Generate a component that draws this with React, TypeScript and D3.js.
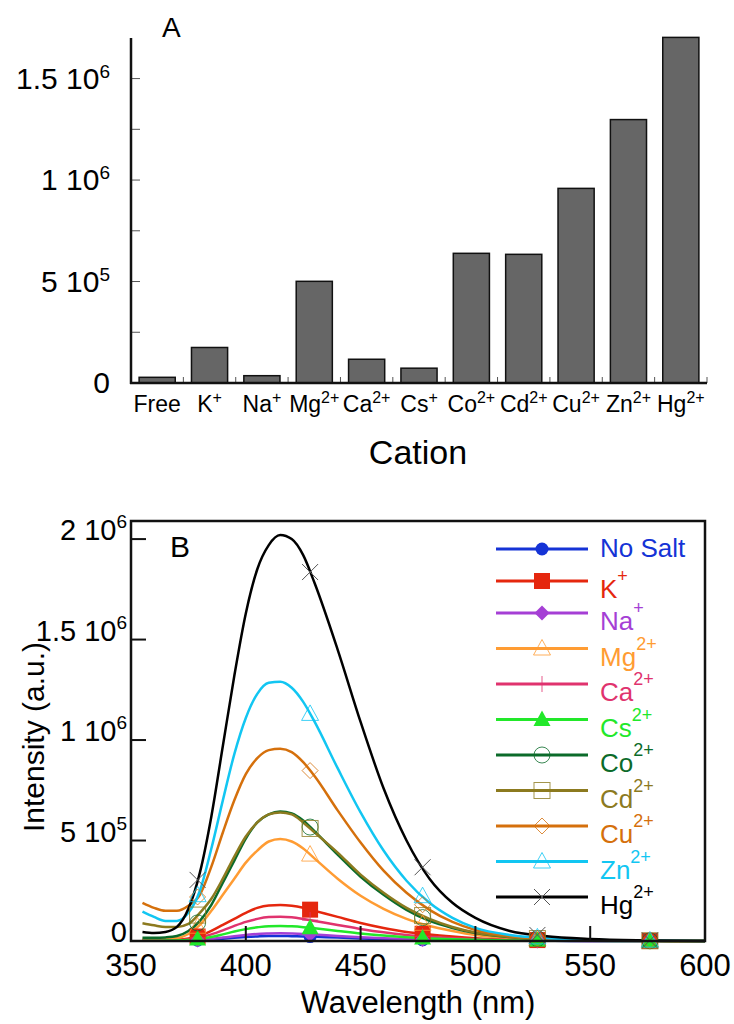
import React from "react";
import * as d3 from "d3";

// ---------- Panel A data ----------
const cations = ["Free", "K", "Na", "Mg", "Ca", "Cs", "Co", "Cd", "Cu", "Zn", "Hg"];
const cationCharges = ["", "+", "+", "2+", "2+", "+", "2+", "2+", "2+", "2+", "2+"];
const barValues = [28000, 175000, 36000, 501000, 117000, 73000, 639000, 634000, 959000, 1298000, 1703000];
const yTicksA = [0, 500000, 1000000, 1500000];
const yTickMantA = ["0", "5", "1", "1.5"];
const yTickExpA = ["", "5", "6", "6"];
const yMinorTicksA = [250000, 500000, 750000, 1000000, 1250000, 1500000];

// ---------- Panel B data (intensity in units of 10^6) ----------
const wavelengths = [355, 360, 365, 370, 375, 380, 385, 390, 395, 400, 405, 410, 415, 420, 425, 430, 440, 450, 460, 470, 480, 490, 500, 515, 530, 550, 575, 600];
const noSalt = [0.001, 0.001, 0.001, 0.001, 0.002, 0.004, 0.007, 0.011, 0.016, 0.02, 0.023, 0.025, 0.025, 0.024, 0.023, 0.021, 0.017, 0.013, 0.009, 0.007, 0.005, 0.003, 0.002, 0.001, 0.001, 0, 0, 0];
const kPlus = [0.003, 0.003, 0.004, 0.006, 0.012, 0.025, 0.05, 0.08, 0.11, 0.14, 0.165, 0.177, 0.179, 0.175, 0.165, 0.15, 0.12, 0.09, 0.065, 0.045, 0.032, 0.022, 0.014, 0.007, 0.004, 0.002, 0.001, 0];
const naPlus = [0.001, 0.001, 0.001, 0.002, 0.003, 0.006, 0.01, 0.017, 0.024, 0.03, 0.035, 0.037, 0.038, 0.037, 0.035, 0.032, 0.025, 0.019, 0.014, 0.01, 0.007, 0.005, 0.003, 0.002, 0.001, 0.0005, 0, 0];
const mg2 = [0.01, 0.01, 0.012, 0.015, 0.035, 0.08, 0.15, 0.23, 0.31, 0.39, 0.45, 0.495, 0.507, 0.495, 0.46, 0.41, 0.31, 0.225, 0.16, 0.11, 0.075, 0.05, 0.03, 0.015, 0.008, 0.003, 0.001, 0];
const ca2 = [0.002, 0.002, 0.003, 0.004, 0.008, 0.017, 0.033, 0.053, 0.075, 0.095, 0.11, 0.119, 0.121, 0.118, 0.11, 0.1, 0.08, 0.06, 0.043, 0.03, 0.021, 0.014, 0.009, 0.005, 0.003, 0.001, 0.0005, 0];
const cs2 = [0.001, 0.001, 0.002, 0.003, 0.005, 0.011, 0.02, 0.033, 0.047, 0.059, 0.068, 0.074, 0.075, 0.073, 0.069, 0.063, 0.05, 0.037, 0.027, 0.019, 0.013, 0.009, 0.006, 0.003, 0.002, 0.001, 0, 0];
const co2 = [0.016, 0.016, 0.018, 0.025, 0.05, 0.1, 0.18, 0.29, 0.4, 0.51, 0.59, 0.63, 0.645, 0.635, 0.6, 0.545, 0.43, 0.32, 0.23, 0.155, 0.1, 0.065, 0.04, 0.02, 0.01, 0.004, 0.001, 0];
const cd2 = [0.088, 0.078, 0.07, 0.07, 0.085, 0.14, 0.21, 0.31, 0.42, 0.52, 0.59, 0.63, 0.64, 0.63, 0.59, 0.54, 0.44, 0.33, 0.24, 0.165, 0.11, 0.07, 0.042, 0.02, 0.01, 0.004, 0.001, 0];
const cu2 = [0.19, 0.165, 0.15, 0.15, 0.175, 0.23, 0.37, 0.54, 0.7, 0.83, 0.91, 0.95, 0.957, 0.94, 0.89, 0.82, 0.65, 0.49, 0.35, 0.24, 0.155, 0.095, 0.055, 0.025, 0.012, 0.005, 0.002, 0];
const zn2 = [0.146, 0.12, 0.1, 0.1, 0.14, 0.25, 0.46, 0.7, 0.93, 1.11, 1.23, 1.285, 1.29, 1.26, 1.19, 1.09, 0.86, 0.64, 0.45, 0.3, 0.19, 0.115, 0.065, 0.03, 0.015, 0.006, 0.002, 0];
const hg2 = [0.045, 0.04, 0.045, 0.07, 0.16, 0.34, 0.62, 0.97, 1.32, 1.63, 1.85, 1.97, 2.02, 2.0, 1.92, 1.78, 1.45, 1.09, 0.76, 0.5, 0.31, 0.19, 0.115, 0.05, 0.025, 0.01, 0.003, 0];

const seriesNames = ["No Salt", "K", "Na", "Mg", "Ca", "Cs", "Co", "Cd", "Cu", "Zn", "Hg"];
const seriesSups = ["", "+", "+", "2+", "2+", "2+", "2+", "2+", "2+", "2+", "2+"];
const seriesData = [noSalt, kPlus, naPlus, mg2, ca2, cs2, co2, cd2, cu2, zn2, hg2];
const seriesColors = ["#1533d6", "#e5270e", "#a53fd5", "#ff9c33", "#e0336e", "#22e82a", "#0b6b2a", "#8c7a1f", "#d5700c", "#12c6f2", "#000000"];
const seriesMarkers = ["circleFill", "squareFill", "diamondFill", "triOpen", "plus", "triFill", "circleOpen", "squareOpen", "diamondOpen", "triOpen", "cross"];
const markerWavelengths = [379, 428, 477, 527, 576];

const xTicksB = [350, 400, 450, 500, 550, 600];
const yTicksB = [0, 0.5, 1, 1.5, 2];
const yTickMantB = ["0", "5", "1", "1.5", "2"];
const yTickExpB = ["", "5", "6", "6", "6"];

const FONT = "'Liberation Sans', Arial, Helvetica, sans-serif";

function valueAt(series: number[], w: number): number {
  const i = d3.bisectLeft(wavelengths, w);
  if (i <= 0) return series[0];
  if (i >= wavelengths.length) return series[series.length - 1];
  const w0 = wavelengths[i - 1], w1 = wavelengths[i];
  const t = (w - w0) / (w1 - w0);
  return series[i - 1] + t * (series[i] - series[i - 1]);
}

function Marker({ type, x, y, color }: { type: string; x: number; y: number; color: string }) {
  const s = 8;
  switch (type) {
    case "circleFill":
      return <circle cx={x} cy={y} r={6.5} fill={color} />;
    case "squareFill":
      return <rect x={x - 8} y={y - 8} width={16} height={16} fill={color} />;
    case "diamondFill":
      return <path d={`M${x},${y - 7.5}L${x + 7.5},${y}L${x},${y + 7.5}L${x - 7.5},${y}Z`} fill={color} />;
    case "triFill":
      return <path d={`M${x},${y - 9}L${x + 8.5},${y + 6.5}L${x - 8.5},${y + 6.5}Z`} fill={color} />;
    case "triOpen":
      return <path d={`M${x},${y - 9}L${x + 8.5},${y + 6.5}L${x - 8.5},${y + 6.5}Z`} fill="none" stroke={color} strokeWidth={1} opacity={0.8} />;
    case "circleOpen":
      return <circle cx={x} cy={y} r={s} fill="none" stroke={color} strokeWidth={1} opacity={0.8} />;
    case "squareOpen":
      return <rect x={x - s} y={y - s} width={2 * s} height={2 * s} fill="none" stroke={color} strokeWidth={1} opacity={0.8} />;
    case "diamondOpen":
      return <path d={`M${x},${y - 8}L${x + 8},${y}L${x},${y + 8}L${x - 8},${y}Z`} fill="none" stroke={color} strokeWidth={1} opacity={0.8} />;
    case "plus":
      return <path d={`M${x},${y - 8}L${x},${y + 8}M${x - 8},${y}L${x + 8},${y}`} fill="none" stroke={color} strokeWidth={1} opacity={0.8} />;
    case "cross":
      return <path d={`M${x - 8},${y - 8}L${x + 8},${y + 8}M${x - 8},${y + 8}L${x + 8},${y - 8}`} fill="none" stroke="#555" strokeWidth={1} />;
    default:
      return null;
  }
}

export default function App() {
  // Panel A scales
  const xA = d3.scaleBand<string>().domain(cations).range([131, 707]).paddingInner(0.31).paddingOuter(0.155);
  const yA = d3.scaleLinear().domain([0, 1700000]).range([383, 38]);
  const stepA = xA.step();

  // Panel B scales
  const xB = d3.scaleLinear().domain([350, 600]).range([131, 705]);
  const yB = d3.scaleLinear().domain([0, 2.09]).range([941, 521]);
  const line = d3
    .line<number>()
    .x((_, i) => xB(wavelengths[i]))
    .y((d) => yB(d))
    .curve(d3.curveMonotoneX);

  const legendY = (i: number) => 549 + 32 * Math.min(i, 2) + 35.5 * Math.max(0, i - 2);

  return (
    <svg width={734} height={1024} style={{ position: "absolute", left: 0, top: 0, background: "#fff" }} fontFamily={FONT}>
      {/* ================= Panel A ================= */}
      <text x={162} y={37} fontSize={28}>A</text>
      {barValues.map((v, i) => (
        <rect
          key={cations[i]}
          x={xA(cations[i])!}
          y={yA(v)}
          width={xA.bandwidth()}
          height={yA(0) - yA(v)}
          fill="#666666"
          stroke="#111"
          strokeWidth={1.5}
        />
      ))}
      {yMinorTicksA.map((t) => (
        <line key={t} x1={131} x2={140} y1={yA(t)} y2={yA(t)} stroke="#555" strokeWidth={1} />
      ))}
      {cations.map((c, i) => (
        <line key={c} x1={131 + stepA * (i + 1)} x2={131 + stepA * (i + 1)} y1={383} y2={377} stroke="#555" strokeWidth={1} />
      ))}
      <line x1={131} x2={131} y1={38} y2={384} stroke="#111" strokeWidth={2.5} />
      <line x1={130} x2={707} y1={383} y2={383} stroke="#111" strokeWidth={2.5} />
      {yTicksA.map((t, i) => (
        <text key={t} x={110} y={yA(t) + 10} fontSize={30} textAnchor="end">
          {yTickMantA[i] + (yTickExpA[i] ? " 10" : "")}
          {yTickExpA[i] ? (
            <tspan dy={-11} fontSize={19}>{yTickExpA[i]}</tspan>
          ) : null}
        </text>
      ))}
      {cations.map((c, i) => (
        <text key={c} x={xA(c)! + xA.bandwidth() / 2} y={412} fontSize={23} textAnchor="middle">
          {c}
          {cationCharges[i] ? (
            <tspan dy={-9} fontSize={16}>{cationCharges[i]}</tspan>
          ) : null}
        </text>
      ))}
      <text x={418} y={464} fontSize={34} textAnchor="middle">Cation</text>

      {/* ================= Panel B ================= */}
      <text x={170} y={557} fontSize={30}>B</text>
      {seriesData.map((s, i) => (
        <path key={seriesNames[i]} d={line(s) || ""} fill="none" stroke={seriesColors[i]} strokeWidth={2.5} strokeLinejoin="round" />
      ))}
      {seriesData.map((s, i) => (
        <g key={"m" + seriesNames[i]}>
          {markerWavelengths.map((w) => (
            <Marker key={w} type={seriesMarkers[i]} x={xB(w)} y={yB(valueAt(s, w))} color={seriesColors[i]} />
          ))}
        </g>
      ))}
      <rect x={131} y={521} width={705 - 131} height={941 - 521} fill="none" stroke="#111" strokeWidth={2.5} />
      {xTicksB.map((t) => (
        <line key={t} x1={xB(t)} x2={xB(t)} y1={941} y2={926} stroke="#111" strokeWidth={2} />
      ))}
      {yTicksB.map((t) => (
        <line key={t} x1={131} x2={146} y1={yB(t)} y2={yB(t)} stroke="#111" strokeWidth={2} />
      ))}
      {xTicksB.map((t) => (
        <text key={t} x={xB(t)} y={976} fontSize={31} textAnchor="middle">{t}</text>
      ))}
      {yTicksB.map((t, i) => (
        <text key={t} x={127} y={yB(t) + 1} fontSize={29} textAnchor="end">
          {yTickMantB[i] + (yTickExpB[i] ? " 10" : "")}
          {yTickExpB[i] ? (
            <tspan dy={-12} fontSize={19}>{yTickExpB[i]}</tspan>
          ) : null}
        </text>
      ))}
      <text x={418} y={1013} fontSize={31} textAnchor="middle">Wavelength (nm)</text>
      <text transform={`translate(44, ${737}) rotate(-90)`} fontSize={30} textAnchor="middle">Intensity (a.u.)</text>

      {seriesNames.map((n, i) => {
        const y = legendY(i);
        const c = seriesColors[i];
        return (
          <g key={"lg" + n}>
            <line x1={496} x2={588} y1={y} y2={y} stroke={c} strokeWidth={3} />
            <Marker type={seriesMarkers[i]} x={542} y={y} color={c} />
            <text x={600} y={seriesSups[i] ? y + 17 : y + 8} fontSize={26} fill={c}>
              {n}
              {seriesSups[i] ? (
                <tspan dy={-16} fontSize={18}>{seriesSups[i]}</tspan>
              ) : null}
            </text>
          </g>
        );
      })}
    </svg>
  );
}
